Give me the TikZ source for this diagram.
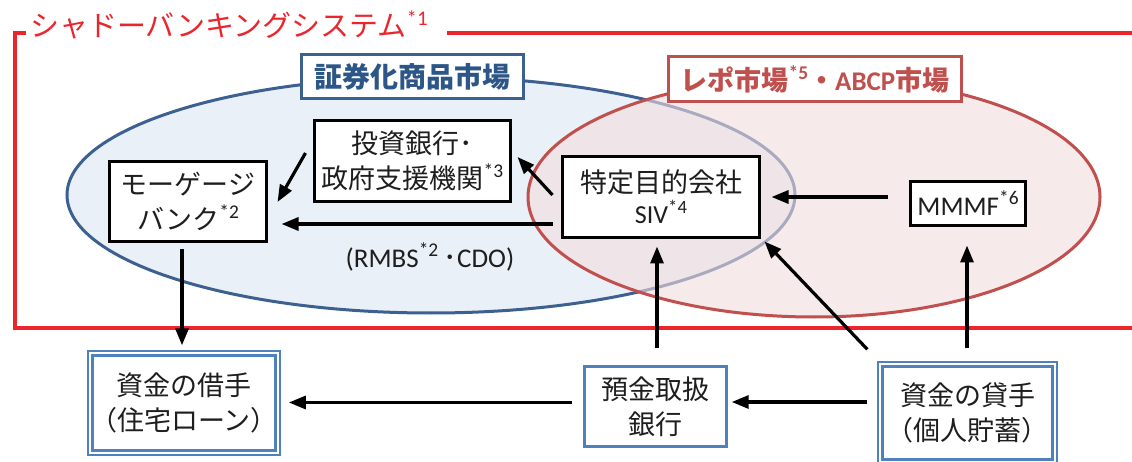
\documentclass[tikz,border=0pt]{standalone}
\usepackage{fontspec}
\setmainfont{Noto Sans CJK JP}
\newfontfamily\lat{Carlito}
\usetikzlibrary{arrows.meta,calc}
\definecolor{frred}{RGB}{236,36,44}
\definecolor{eblue}{RGB}{60,97,145}
\definecolor{eblfill}{RGB}{234,240,247}
\definecolor{ered}{RGB}{192,80,77}
\definecolor{erfill}{RGB}{243,220,223}
\definecolor{bxblue}{RGB}{79,129,189}
\definecolor{txt}{RGB}{30,30,30}
\definecolor{lblblue}{RGB}{44,86,135}
\newcommand\supnote[1]{\raisebox{0.4em}{\scalebox{0.72}{\lat #1}}}
\begin{document}
\begin{tikzpicture}[x=1pt,y=-1pt,
  blackbox/.style={draw=black,line width=3pt,fill=white,outer sep=0pt,inner sep=0pt,
    align=center,text=txt,font=\fontsize{27}{35}\selectfont},
  dblbox/.style={draw=bxblue,line width=2.4pt,double=white,double distance=2.2pt,fill=white,
    outer sep=0pt,inner sep=0pt,align=center,text=txt,font=\fontsize{27}{35}\selectfont},
  bluebox/.style={draw=bxblue,line width=2.6pt,fill=white,outer sep=0pt,inner sep=0pt,
    align=center,text=txt,font=\fontsize{27}{35}\selectfont},
  arr/.style={draw=black,line width=3.2pt,-{Triangle[length=17pt,width=13pt]}},
  tagbox/.style={line width=3pt,fill=white,outer sep=0pt,inner sep=0pt,font=\bfseries},
  frame/.style={draw=frred,line width=3.2pt}
]
\useasboundingbox (0,0) rectangle (1132,462);
\fill[white] (0,0) rectangle (1132,462);
% ellipses
\draw[eblue,line width=3pt,fill=eblfill] (431,195) ellipse [x radius=364,y radius=118];
\draw[ered,line width=3pt,fill=erfill,fill opacity=0.6] (814,197) ellipse [x radius=286,y radius=120];
% market labels
\node[tagbox,draw=eblue,text=lblblue,minimum width=222pt,minimum height=44pt]
  (seclbl) at (412.5,76.5) {\fontsize{28}{30}\selectfont 証券化商品市場};
\node[tagbox,draw=ered,text=ered,minimum width=293pt,minimum height=45pt]
  (repolbl) at (815,79) {\fontsize{27}{30}\selectfont レポ市場\supnote{\bfseries *5}・{\lat\bfseries ABCP}市場};
% red frame
\draw[frame] (26,33) -- (15,33) -- (15,328) -- (1132,328);
\draw[frame] (447,33) -- (1132,33);
\node[anchor=west,inner sep=0pt,text=frred,font=\fontsize{29}{32}\selectfont]
  (title) at (30,25) {シャドーバンキングシステム\supnote{*1}};
% boxes
\node[blackbox,minimum width=157pt,minimum height=80pt] (mb) at (188,201.5)
  {モーゲージ\\バンク\supnote{*2}};
\node[blackbox,minimum width=196pt,minimum height=81pt] (ib) at (412.5,161)
  {投資銀行･\\政府支援機関\supnote{*3}};
\node[blackbox,minimum width=197pt,minimum height=81pt] (siv) at (661,197)
  {特定目的会社\\[-4pt]{\lat\fontsize{26}{28}\selectfont SIV\supnote{*4}}};
\node[blackbox,minimum width=115pt,minimum height=44pt] (mmmf) at (968,203.5)
  {{\lat MMMF}\supnote{*6}};
\node[dblbox,minimum width=187.3pt,minimum height=99.3pt] (br) at (184,403)
  {資金の借手\\（住宅ローン）};
\node[bluebox,minimum width=142.4pt,minimum height=80.4pt] (dep) at (655.5,406.5)
  {預金取扱\\銀行};
\node[dblbox,minimum width=174.3pt,minimum height=97.3pt] (lend) at (967.5,413)
  {資金の貸手\\（個人貯蓄）};
\node[inner sep=0pt,text=txt,font=\fontsize{27}{30}\selectfont] (rmbs) at (430,257)
  {{\lat (RMBS}\supnote{*2}\hspace{0.2em}･{\lat CDO)}};
% arrows
\draw[arr] ([shift={(-9,-8)}]ib.west) -- ([shift={(11,0.5)}]mb.east);
\draw[arr] ([shift={(-10,-2)}]siv.west) -- ([shift={(7,-4)}]ib.east);
\draw[arr] ([shift={(-10,27)}]siv.west) -- ([shift={(15,22.5)}]mb.east);
\draw[arr] ([shift={(-23,-6.5)}]mmmf.west) -- ([shift={(12,0)}]siv.east);
\draw[arr] ([shift={(1.5,-18)}]dep.north) -- ([shift={(-4,9)}]siv.south);
\draw[arr] ([shift={(-13,-15)}]lend.north west) -- ([shift={(5,4)}]siv.south east);
\draw[arr] ([shift={(-0.5,-16)}]lend.north) -- ([shift={(-1,20)}]mmmf.south);
\draw[arr] ([shift={(-6,8)}]mb.south) -- ([shift={(-2,-8)}]br.north);
\draw[arr] ([shift={(-13,-11)}]lend.west) -- ([shift={(5,-4.5)}]dep.east);
\draw[arr] ([shift={(-12,-4)}]dep.west) -- ([shift={(11,-0.5)}]br.east);
\end{tikzpicture}
\end{document}
